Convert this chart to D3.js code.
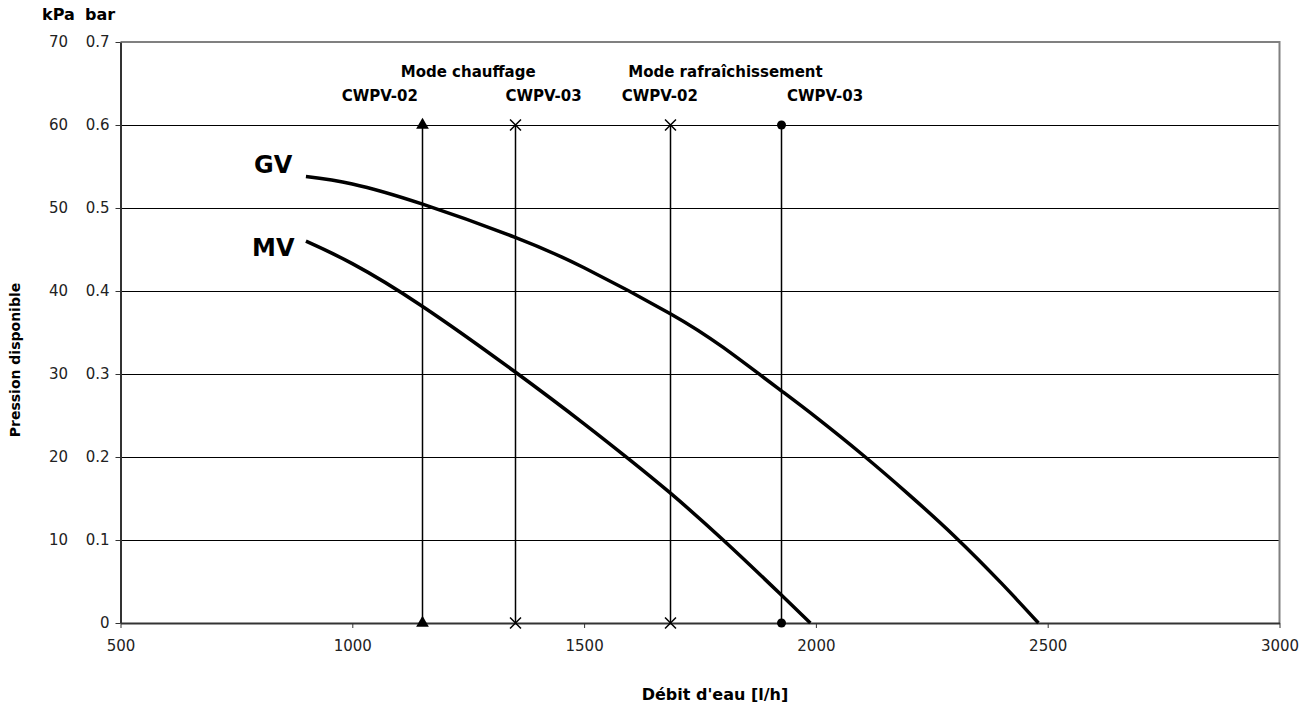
<!DOCTYPE html>
<html>
<head>
<meta charset="utf-8">
<script src="https://cdn.jsdelivr.net/npm/d3@7"></script>
<style>
  html, body { margin: 0; padding: 0; background: #fff; }
  svg { display: block; }
</style>
</head>
<body>
<svg id="chart" width="1314" height="713"></svg>
<script>
// ---- Data ----
const xTicks = [500, 1000, 1500, 2000, 2500, 3000];
const yTicksBar = [0, 0.1, 0.2, 0.3, 0.4, 0.5, 0.6, 0.7];
const yTicksKpa = ["", "10", "20", "30", "40", "50", "60", "70"];

const gvFlow     = [900, 1000, 1150, 1350, 1500, 1685, 1800, 1925, 2000, 2100, 2200, 2300, 2400, 2480];
const gvPressure = [0.538, 0.529, 0.505, 0.465, 0.428, 0.373, 0.332, 0.280, 0.248, 0.203, 0.155, 0.104, 0.048, 0];

const mvFlow     = [900, 1000, 1150, 1350, 1500, 1600, 1685, 1800, 1925, 1988];
const mvPressure = [0.460, 0.433, 0.382, 0.303, 0.240, 0.196, 0.157, 0.100, 0.034, 0];

const unitFlow   = [1150, 1350, 1685, 1925];
const unitNames  = ["CWPV-02", "CWPV-03", "CWPV-02", "CWPV-03"];
const unitMarker = ["triangle", "cross", "cross", "circle"];
const unitRange  = [0, 0.6];
const modeNames  = ["Mode chauffage", "Mode rafraîchissement"];
const modeFlow   = [1250, 1805];

// ---- Layout ----
const svg = d3.select("#chart");
const mLeft = 120.5, mRight = 1279.5, mTop = 42, mBottom = 623;
const x = d3.scaleLinear().domain([500, 3000]).range([mLeft, mRight]);
const y = d3.scaleLinear().domain([0, 0.7]).range([mBottom, mTop]);
const crisp = v => Math.round(v) + 0.5;

const reg = "'DejaVu Sans', sans-serif";

// gridlines
svg.append("g").selectAll("line")
  .data(yTicksBar.filter(v => v > 0 && v < 0.7))
  .join("line")
  .attr("x1", mLeft).attr("x2", mRight)
  .attr("y1", d => crisp(y(d))).attr("y2", d => crisp(y(d)))
  .attr("stroke", "#000").attr("stroke-width", 1);

// frame top/right
svg.append("path")
  .attr("d", `M${mLeft},${mTop}H${mRight}V${mBottom}`)
  .attr("fill", "none").attr("stroke", "#808080").attr("stroke-width", 2);

// x axis
const xAxis = d3.axisBottom(x).tickValues(xTicks).tickSize(5).tickSizeOuter(0).tickPadding(12)
  .tickFormat(d3.format("d"));
const gx = svg.append("g").attr("transform", `translate(0,${mBottom})`).call(xAxis);
gx.select(".domain").attr("stroke", "#333").attr("stroke-width", 2);
gx.selectAll(".tick line").attr("stroke", "#333");
gx.selectAll("text").attr("font-family", reg).attr("font-size", 15).attr("fill", "#222");

// y axis (bar)
const yAxis = d3.axisLeft(y).tickValues(yTicksBar).tickSize(5).tickSizeOuter(0).tickPadding(6)
  .tickFormat(d => d === 0 ? "0" : d3.format(".1f")(d));
const gy = svg.append("g").attr("transform", `translate(${mLeft},0)`).call(yAxis);
gy.select(".domain").attr("stroke", "#333").attr("stroke-width", 2);
gy.selectAll(".tick line").attr("stroke", "#333");
gy.selectAll("text").attr("font-family", reg).attr("font-size", 15).attr("fill", "#222");

// kPa labels
svg.append("g").selectAll("text")
  .data(yTicksBar)
  .join("text")
  .attr("x", 68).attr("y", d => y(d)).attr("dy", "0.32em")
  .attr("text-anchor", "end")
  .attr("font-family", reg).attr("font-size", 15).attr("fill", "#222")
  .text((d, i) => yTicksKpa[i]);

// unit headers
svg.append("text").attr("x", 42).attr("y", 20).attr("font-family", reg).attr("font-weight", "bold")
  .attr("font-size", 16).text("kPa");
svg.append("text").attr("x", 85).attr("y", 20).attr("font-family", reg).attr("font-weight", "bold")
  .attr("font-size", 16).text("bar");

// axis titles
svg.append("text").attr("x", 715).attr("y", 700).attr("text-anchor", "middle")
  .attr("font-family", reg).attr("font-weight", "bold").attr("font-size", 16).text("Débit d'eau [l/h]");
svg.append("text").attr("transform", "translate(20,360) rotate(-90)").attr("text-anchor", "middle")
  .attr("font-family", reg).attr("font-weight", "bold").attr("font-size", 14).text("Pression disponible");

// vertical unit lines
svg.append("g").selectAll("line")
  .data(unitFlow)
  .join("line")
  .attr("x1", d => crisp(x(d))).attr("x2", d => crisp(x(d)))
  .attr("y1", y(unitRange[0])).attr("y2", y(unitRange[1]))
  .attr("stroke", "#000").attr("stroke-width", 1.5);

// markers
const mk = svg.append("g");
unitFlow.forEach((f, i) => {
  unitRange.forEach(p => {
    const cx = crisp(x(f)), cy = y(p);
    if (unitMarker[i] === "triangle") {
      mk.append("path").attr("d", d3.symbol(d3.symbolTriangle, 70)()).attr("transform", `translate(${cx},${cy})`).attr("fill", "#000");
    } else if (unitMarker[i] === "circle") {
      mk.append("circle").attr("cx", cx).attr("cy", cy).attr("r", 4.5).attr("fill", "#000");
    } else {
      mk.append("path").attr("d", d3.symbol(d3.symbolTimes, 80)()).attr("transform", `translate(${cx},${cy})`)
        .attr("fill", "none").attr("stroke", "#000").attr("stroke-width", 1.5);
    }
  });
});

// unit labels
const labelDx = [-42, 29, -10, 44];
svg.append("g").selectAll("text")
  .data(unitFlow)
  .join("text")
  .attr("x", (d, i) => x(d) + labelDx[i]).attr("y", 101)
  .attr("text-anchor", "middle")
  .attr("font-family", reg).attr("font-weight", "bold").attr("font-size", 15)
  .text((d, i) => unitNames[i]);
svg.append("g").selectAll("text")
  .data(modeFlow)
  .join("text")
  .attr("x", d => x(d)).attr("y", 77)
  .attr("text-anchor", "middle")
  .attr("font-family", reg).attr("font-weight", "bold").attr("font-size", 15)
  .text((d, i) => modeNames[i]);

// curves
const line = d3.line().x(d => x(d[0])).y(d => y(d[1])).curve(d3.curveNatural);
svg.append("path").datum(d3.zip(gvFlow, gvPressure)).attr("d", line)
  .attr("fill", "none").attr("stroke", "#000").attr("stroke-width", 3.5);
svg.append("path").datum(d3.zip(mvFlow, mvPressure)).attr("d", line)
  .attr("fill", "none").attr("stroke", "#000").attr("stroke-width", 3.5);

// curve labels
svg.append("text").attr("x", 254).attr("y", 173).attr("font-family", reg).attr("font-weight", "bold")
  .attr("font-size", 24).text("GV");
svg.append("text").attr("x", 252).attr("y", 256).attr("font-family", reg).attr("font-weight", "bold")
  .attr("font-size", 24).text("MV");
</script>
</body>
</html>
